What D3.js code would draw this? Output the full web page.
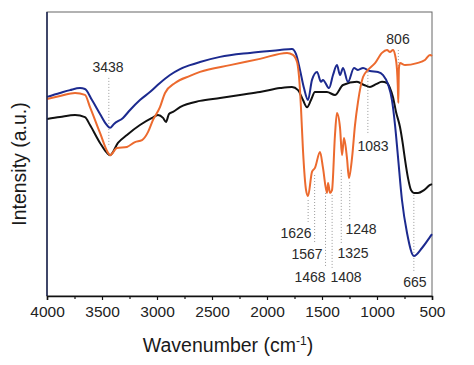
<!DOCTYPE html>
<html><head><meta charset="utf-8">
<script src="https://cdn.jsdelivr.net/npm/d3@7"></script>
<style>body{margin:0;background:#fff}svg{display:block}</style>
</head><body>
<svg id="chart" width="474" height="365"></svg>
<script>
// x tick labels (wavenumber, cm-1)
const xTicks = [4000, 3500, 3000, 2500, 2000, 1500, 1000, 500];
const xMinorTicks = [3750, 3250, 2750, 2250, 1750, 1250, 750];

// series: [wavenumber, intensity (a.u.)]
const blackSeries = [[4000,62.3],[3882,63.0],[3745,63.7],[3655,63.0],[3609,60.2],[3518,53.9],[3455,50.4],[3427,49.6],[3355,53.9],[3273,56.7],[3155,60.2],[3045,62.7],[2991,63.7],[2945,62.7],[2918,61.3],[2891,64.1],[2855,64.8],[2791,66.5],[2609,68.7],[2427,69.7],[2245,70.8],[2064,71.8],[1882,73.2],[1773,73.6],[1718,72.5],[1673,69.0],[1636,66.5],[1600,69.0],[1564,71.8],[1455,71.8],[1382,70.8],[1309,74.3],[1182,75.4],[1118,74.3],[1064,73.6],[1009,74.6],[955,75.4],[909,75.0],[882,73.2],[855,70.1],[827,64.8],[791,59.5],[764,53.2],[745,47.9],[718,41.5],[691,37.3],[664,36.3],[627,36.3],[573,37.3],[518,39.1],[500,39.4]];
const blueSeries = [[4000,70.1],[3882,71.5],[3791,72.5],[3700,73.2],[3655,72.9],[3591,69.0],[3518,64.1],[3464,60.6],[3427,59.2],[3391,60.6],[3309,62.7],[3245,65.5],[3155,69.0],[3064,71.8],[2973,75.0],[2882,77.8],[2791,79.9],[2700,81.3],[2609,82.4],[2427,84.2],[2155,85.6],[1882,86.6],[1773,87.0],[1736,85.2],[1700,79.6],[1664,73.2],[1627,69.0],[1591,76.1],[1545,78.9],[1509,75.4],[1491,76.1],[1436,73.2],[1400,77.8],[1364,81.3],[1336,77.8],[1309,80.3],[1264,75.4],[1209,80.3],[1173,79.6],[1127,80.3],[1064,79.2],[991,78.9],[945,77.8],[900,74.6],[864,69.0],[836,60.2],[809,48.9],[773,33.8],[727,22.2],[664,14.1],[591,16.9],[518,20.8],[500,21.8]];
const orangeSeries = [[4000,69.4],[3882,70.4],[3745,71.5],[3655,70.8],[3609,66.5],[3518,57.4],[3445,50.4],[3427,49.6],[3364,52.1],[3273,52.5],[3200,54.2],[3136,54.9],[3082,57.7],[3036,62.0],[2973,66.5],[2927,71.5],[2836,75.0],[2700,77.5],[2609,78.9],[2336,81.3],[2064,83.5],[1818,85.6],[1764,84.9],[1727,82.4],[1700,72.5],[1691,66.2],[1673,51.4],[1645,37.3],[1627,35.2],[1591,43.7],[1564,45.1],[1518,50.7],[1491,45.1],[1455,36.3],[1445,39.8],[1427,36.3],[1409,37.3],[1382,56.7],[1364,64.4],[1336,59.2],[1318,49.6],[1300,55.6],[1273,48.6],[1255,41.5],[1227,48.6],[1200,60.2],[1173,68.3],[1127,77.1],[1082,79.6],[1018,82.0],[955,85.6],[909,86.6],[882,85.9],[855,86.6],[836,84.9],[818,79.6],[811,74.0],[806,68.0],[801,80.0],[791,82.0],[745,81.3],[636,82.0],[564,83.1],[518,84.9],[500,84.5]];

// peak annotations: wavenumber, label, dotted range (intensity), label anchor (wavenumber, intensity)
const peakLabels  = ["3438","806","1083","1626","1567","1468","1408","1325","1248","665"];
const peakWn      = [3438, 806, 1083, 1626, 1567, 1468, 1408, 1325, 1248, 665];
const peakLineTop = [76.8, 86.6, 78.9, 33.8, 42.6, 36.3, 35.6, 44.4, 40.1, 35.6];
const peakLineBot = [52.5, 69.6, 57.4, 26.1, 18.3, 9.9, 9.9, 18.3, 26.8, 8.5];
const labelWn     = [3445, 809, 1036, 1736, 1636, 1609, 1282, 1218, 1145, 655];
const labelI      = [78.9, 88.7, 51.1, 20.4, 13.0, 4.9, 4.9, 13.4, 21.8, 3.2];

const svg = d3.select("#chart");
const m = {l:47, r:42, t:12, b:69};
const W = 474, H = 365;
const x = d3.scaleLinear().domain([4000, 500]).range([m.l, W - m.r]);
const y = d3.scaleLinear().domain([0, 100]).range([H - m.b, m.t]);
const font = "'Liberation Sans', Arial, sans-serif";

// frame
svg.append("rect").attr("x", x(4000)).attr("y", y(100))
  .attr("width", x(500) - x(4000)).attr("height", y(0) - y(100))
  .attr("fill", "none").attr("stroke", "#666").attr("stroke-width", 1);

// annotations dotted lines
peakWn.forEach((wn, i) => {
  svg.append("line").attr("x1", x(wn)).attr("x2", x(wn))
    .attr("y1", y(peakLineTop[i])).attr("y2", y(peakLineBot[i]))
    .attr("stroke", "#9a9a9a").attr("stroke-width", 1).attr("stroke-dasharray", "1,2");
});

const line = d3.line().x(d => x(d[0])).y(d => y(d[1])).curve(d3.curveMonotoneX);
const series = [
  {data: blackSeries, color: "#111111"},
  {data: blueSeries, color: "#1c2a8f"},
  {data: orangeSeries, color: "#ec6a2e"}
];
series.forEach(s => {
  svg.append("path").datum(s.data).attr("d", line)
    .attr("fill", "none").attr("stroke", s.color).attr("stroke-width", 2)
    .attr("stroke-linejoin", "round");
});

// labels
peakLabels.forEach((t, i) => {
  svg.append("text").attr("x", x(labelWn[i])).attr("y", y(labelI[i]))
    .attr("text-anchor", "middle").attr("font-family", font).attr("font-size", 14)
    .attr("fill", "#2a2a2a").text(t);
});

// left & bottom axis lines
svg.append("line").attr("x1", x(4000)).attr("x2", x(4000)).attr("y1", y(0)).attr("y2", y(100))
  .attr("stroke", "#1a2350").attr("stroke-width", 1.5);

const xAxis = svg.append("g").attr("transform", `translate(0,${y(0)})`)
  .call(d3.axisBottom(x).tickValues(xTicks).tickSize(4).tickPadding(6).tickFormat(d3.format("d")));
xAxis.select(".domain").attr("stroke", "#111").attr("stroke-width", 1.5);
xAxis.selectAll(".tick line").attr("stroke", "#111").attr("stroke-width", 1.2);
xAxis.selectAll("text").attr("font-family", font).attr("font-size", 15.5).attr("fill", "#222");
const xMinor = svg.append("g").attr("transform", `translate(0,${y(0)})`)
  .call(d3.axisBottom(x).tickValues(xMinorTicks).tickSize(3).tickFormat(""));
xMinor.select(".domain").remove();
xMinor.selectAll(".tick line").attr("stroke", "#111").attr("stroke-width", 1.2);

// axis titles
const xt = svg.append("text").attr("x", 228).attr("y", 352).attr("text-anchor", "middle")
  .attr("font-family", font).attr("font-size", 19.5).attr("fill", "#1a1a1a");
xt.append("tspan").text("Wavenumber (cm");
xt.append("tspan").attr("dy", -7).attr("font-size", 12).text("-1");
xt.append("tspan").attr("dy", 7).text(")");

svg.append("text").attr("transform", `translate(26,${(y(0)+y(100))/2 + 10}) rotate(-90)`)
  .attr("text-anchor", "middle").attr("font-family", font).attr("font-size", 19.5)
  .attr("fill", "#1a1a1a").text("Intensity (a.u.)");
</script>
</body></html>
